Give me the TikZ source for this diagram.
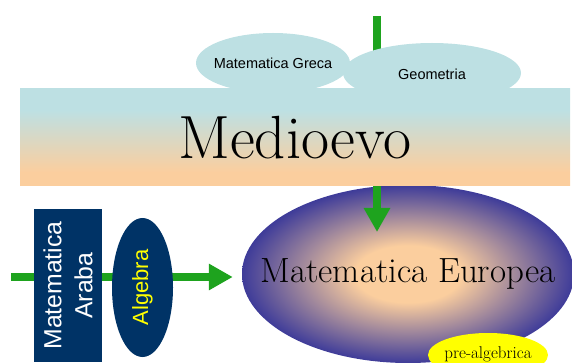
\documentclass[tikz,border=0pt]{standalone}
\usepackage{fontspec}
\newfontfamily\arialfont{Liberation Sans}
\usetikzlibrary{
  arrows.meta,
  shapes.geometric,
  positioning
}
\definecolor{mdCyan}{HTML}{BDE0E3}
\definecolor{mdPeach}{HTML}{FBCE9E}
\definecolor{mdNavy}{HTML}{003366}
\definecolor{mdBlue}{HTML}{333399}
\definecolor{mdGreen}{HTML}{1EA31E}
\definecolor{mdYellow}{HTML}{FFFF00}
\pgfdeclareradialshading{europashade}{\pgfpoint{0bp}{0bp}}{%
  color(0bp)=(mdPeach); color(8bp)=(mdPeach); color(26bp)=(mdBlue); color(50bp)=(mdBlue)}
\pgfdeclareverticalshading{bandshade}{100bp}{%
  color(0bp)=(mdPeach); color(32bp)=(mdPeach); color(64bp)=(mdCyan); color(100bp)=(mdCyan)}
\tikzset{
  oval/.style={ellipse, draw=none, inner sep=0pt},
  greek/.style={oval, fill=mdCyan, minimum height=60pt},
  greektext/.style={font=\arialfont\fontsize{14.5}{17}\selectfont, inner sep=0pt},
  band/.style={
    rectangle, draw=none, shading=bandshade, inner sep=0pt,
    minimum width=550pt, minimum height=97pt, font=\fontsize{61}{70}\selectfont
  },
  araba/.style={
    rectangle, fill=mdNavy, text=white, inner sep=0pt, align=center,
    minimum width=153pt, minimum height=68pt, rotate=90,
    font=\arialfont\fontsize{24.8}{31}\selectfont
  },
  algebra/.style={oval, fill=mdNavy, text=mdYellow, rotate=90,
    minimum width=139pt, minimum height=61pt, font=\arialfont\fontsize{22}{25}\selectfont},
  europa/.style={oval, shading=europashade, minimum width=332pt, minimum height=178pt},
  europatext/.style={font=\fontsize{35}{40}\selectfont, inner sep=0pt},
  prealg/.style={oval, fill=mdYellow, minimum width=120pt, minimum height=44pt},
  prealgtext/.style={font=\fontsize{17}{20}\selectfont, inner sep=0pt},
  greenarrow/.style={draw=mdGreen, line width=8pt, -{Triangle[length=24pt, width=25pt]}}
}
\begin{document}
\begin{tikzpicture}[x=1pt, y=-1pt]
  \useasboundingbox (0,0) rectangle (572,363);
  % lower right: european mathematics
  \node[europa] (europa) at (408,274) {};
  \node[europatext] (europatxt) at (europa.center) {Matematica Europea};
  \coordinate (topsrc) at (377,16);
  \coordinate (downtip) at (377,232);
  \draw[greenarrow] (topsrc) -- (downtip);
  % middle ages band with the greek sources on top
  \node[band] (medioevo) at (295,137.5) {Medioevo};
  \node[greek, minimum width=154pt] (greca) at (273,63) {};
  \node[greektext] at (greca.center) {Matematica Greca};
  \node[greek, minimum width=178pt] (geometria) at (432,73) {};
  \node[greektext] at ([yshift=-1pt]geometria.center) {Geometria};
  % arab mathematics from the left
  \coordinate (leftsrc) at (11,277);
  \draw[greenarrow, shorten >=9pt] (leftsrc) -- (leftsrc -| europa.west);
  \node[araba] (araba) at (68,285.5) {Matematica\\Araba};
  \node[algebra] (algebra) at (142.5,287.5) {Algebra};
  \node[prealg] (prealgebrica) at (488,355) {};
  \node[prealgtext] at ([yshift=1pt]prealgebrica.center) {pre-algebrica};
\end{tikzpicture}
\end{document}
